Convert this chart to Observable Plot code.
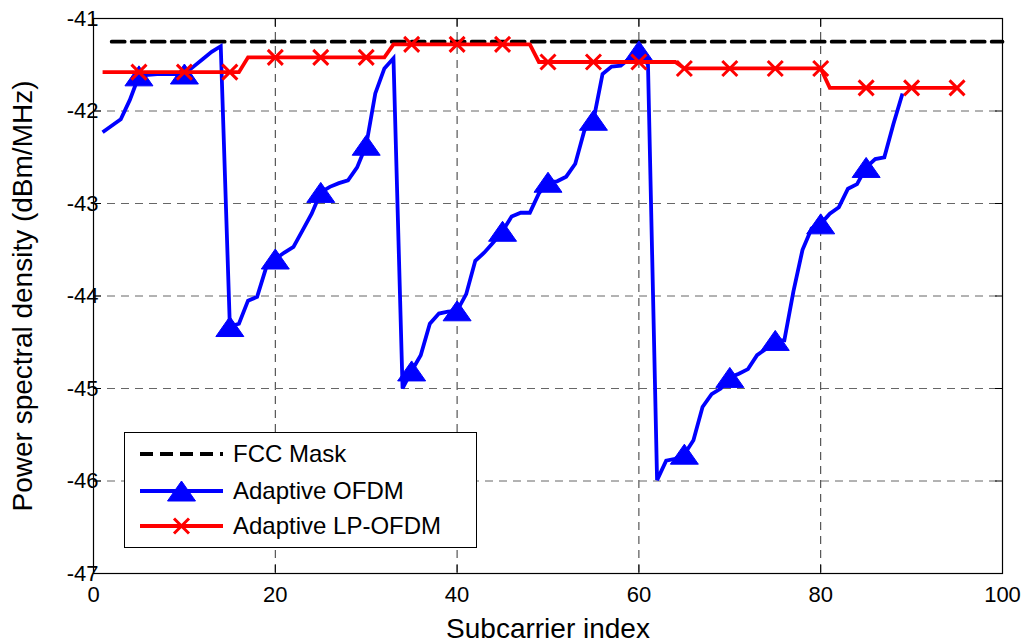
<!DOCTYPE html>
<html><head><meta charset="utf-8">
<script src="https://cdn.jsdelivr.net/npm/d3@7"></script>
<script src="https://cdn.jsdelivr.net/npm/@observablehq/plot@0.6"></script>
<style>
html,body{margin:0;padding:0;background:#fff;}
#wrap{position:relative;width:1029px;height:642px;font-family:"Liberation Sans",Arial,Helvetica,sans-serif;}
#legend{position:absolute;left:124px;top:432px;width:351px;height:114px;border:1px solid #000;background:#fff;}
#legend svg{position:absolute;left:0;top:0;}
g[aria-label="x-axis label"] text, g[aria-label="y-axis label"] text{font-size:28px;}
</style></head>
<body><div id="wrap"></div>
<script>
// ---- data ----
const xTicks = [0, 20, 40, 60, 80, 100];
const yTicks = [-47, -46, -45, -44, -43, -42, -41];

const maskX = [2, 100];
const maskY = [-41.25, -41.25];

const ofdmX = [1,2,3,4,5,6,7,8,9,10,11,12,13,14,15,16,17,18,19,20,21,22,23,24,25,26,27,28,29,30,
  31,32,33,34,35,36,37,38,39,40,41,42,43,44,45,46,47,48,49,50,51,52,53,54,55,56,57,58,59,60,
  61,62,63,64,65,66,67,68,69,70,71,72,73,74,75,76,77,78,79,80,81,82,83,84,85,86,87,88,89];
const ofdmY = [-42.23,-42.16,-42.09,-41.88,-41.62,-41.61,-41.60,-41.60,-41.60,-41.60,
  -41.52,-41.44,-41.36,-41.30,-44.33,-44.30,-44.05,-44.01,-43.69,-43.60,
  -43.53,-43.47,-43.29,-43.11,-42.88,-42.82,-42.78,-42.75,-42.61,-42.37,
  -41.81,-41.54,-41.43,-45.00,-44.81,-44.64,-44.30,-44.19,-44.17,-44.16,
  -43.98,-43.62,-43.53,-43.42,-43.30,-43.14,-43.10,-43.10,-42.89,-42.77,
  -42.76,-42.71,-42.57,-42.21,-42.10,-41.60,-41.52,-41.51,-41.43,-41.35,
  -41.50,-45.99,-45.78,-45.76,-45.71,-45.56,-45.20,-45.06,-45.00,-44.88,
  -44.84,-44.79,-44.64,-44.57,-44.48,-44.48,-43.95,-43.50,-43.27,-43.22,
  -43.11,-43.04,-42.84,-42.79,-42.61,-42.52,-42.50,-42.14,-41.81];

const lpX = [1,2,3,4,5,6,7,8,9,10,11,12,13,14,15,16,17,18,19,20,21,22,23,24,25,26,27,28,29,30,
  31,32,33,34,35,36,37,38,39,40,41,42,43,44,45,46,47,48,49,50,51,52,53,54,55,56,57,58,59,60,
  61,62,63,64,65,66,67,68,69,70,71,72,73,74,75,76,77,78,79,80,81,82,83,84,85,86,87,88,89,90,
  91,92,93,94,95];
const lpY = [
  -41.58,-41.58,-41.58,-41.58,-41.58,-41.58,-41.58,-41.58,-41.58,-41.58,-41.58,-41.58,-41.58,-41.58,-41.58,-41.58,
  -41.42,-41.42,-41.42,-41.42,-41.42,-41.42,-41.42,-41.42,-41.42,-41.42,-41.42,-41.42,-41.42,-41.42,-41.42,-41.42,
  -41.28,-41.28,-41.28,-41.28,-41.28,-41.28,-41.28,-41.28,-41.28,-41.28,-41.28,-41.28,-41.28,-41.28,-41.28,-41.28,
  -41.47,-41.47,-41.47,-41.47,-41.47,-41.47,-41.47,-41.47,-41.47,-41.47,-41.47,-41.47,-41.47,-41.47,-41.47,-41.47,
  -41.54,-41.54,-41.54,-41.54,-41.54,-41.54,-41.54,-41.54,-41.54,-41.54,-41.54,-41.54,-41.54,-41.54,-41.54,-41.54,
  -41.75,-41.75,-41.75,-41.75,-41.75,-41.75,-41.75,-41.75,-41.75,-41.75,-41.75,-41.75,-41.75,-41.75,-41.75];

const seriesNames = ["FCC Mask", "Adaptive OFDM", "Adaptive LP-OFDM"];
const seriesColors = ["#000000", "#0000ff", "#ff0000"];

// ---- tables ----
const mask = maskX.map((x, i) => ({x, y: maskY[i]}));
const ofdm = ofdmX.map((x, i) => ({x, y: ofdmY[i]}));
const lp = lpX.map((x, i) => ({x, y: lpY[i]}));
const ofdmMarks = ofdm.filter(d => d.x % 5 === 0);
const lpMarks = lp.filter(d => d.x % 5 === 0);

const triangleSym = {draw(ctx) { ctx.moveTo(0, -10); ctx.lineTo(14, 10); ctx.lineTo(-14, 10); ctx.closePath(); }};
const crossSym = {draw(ctx) { const s = 7.5; ctx.moveTo(-s, -s); ctx.lineTo(s, s); ctx.moveTo(s, -s); ctx.lineTo(-s, s); }};

const lineStyle = {strokeWidth: 3.8, strokeLinejoin: "miter", strokeLinecap: "butt", strokeMiterlimit: 4};

const chart = Plot.plot({
  width: 1029, height: 642,
  marginLeft: 93, marginRight: 27, marginTop: 18, marginBottom: 69,
  x: {domain: [0, 100]},
  y: {domain: [-47, -41]},
  style: {fontFamily: '"Liberation Sans", Arial, Helvetica, sans-serif', fontSize: "22px", background: "#fff", color: "#000", overflow: "visible"},
  marks: [
    Plot.gridX(xTicks, {stroke: "#333", strokeOpacity: 1, strokeDasharray: "8,6"}),
    Plot.gridY(yTicks, {stroke: "#666", strokeOpacity: 1, strokeDasharray: "8,6"}),
    Plot.line(mask, {x: "x", y: "y", stroke: seriesColors[0], strokeWidth: 3.8, strokeDasharray: "13,7"}),
    Plot.line(ofdm, {x: "x", y: "y", stroke: seriesColors[1], ...lineStyle}),
    Plot.dot(ofdmMarks, {x: "x", y: "y", r: 1, symbol: triangleSym, fill: seriesColors[1], stroke: seriesColors[1], strokeWidth: 1}),
    Plot.line(lp, {x: "x", y: "y", stroke: seriesColors[2], ...lineStyle}),
    Plot.dot(lpMarks, {x: "x", y: "y", r: 1, symbol: crossSym, fill: "none", stroke: seriesColors[2], strokeWidth: 3}),
    Plot.frame({stroke: "#000", strokeWidth: 1.2}),
    Plot.axisX(xTicks, {anchor: "bottom", tickSize: -8, tickPadding: 21, label: "Subcarrier index", labelAnchor: "center", labelOffset: 64, labelArrow: "none"}),
    Plot.axisX(xTicks, {anchor: "top", tickSize: -8, tickFormat: () => "", label: null}),
    Plot.axisY(yTicks, {anchor: "left", tickSize: -8, tickPadding: 3, tickFormat: d => String(d).replace("\u2212", "-"), label: "Power spectral density (dBm/MHz)", labelAnchor: "center", labelOffset: 81, labelArrow: "none"}),
    Plot.axisY(yTicks, {anchor: "right", tickSize: -8, tickFormat: () => "", label: null})
  ]
});

const wrap = document.getElementById("wrap");
wrap.appendChild(chart);

// ---- legend (overlay) ----
const legend = document.createElement("div");
legend.id = "legend";
const rowsY = [21, 58, 93];
let svg = `<svg width="351" height="114" xmlns="http://www.w3.org/2000/svg" font-family='"Liberation Sans", Arial, sans-serif' font-size="24">`;
seriesNames.forEach((name, i) => {
  const y = rowsY[i];
  const dash = i === 0 ? ' stroke-dasharray="13,7"' : '';
  svg += `<line x1="15" x2="98" y1="${y}" y2="${y}" stroke="${seriesColors[i]}" stroke-width="3.8"${dash}/>`;
  if (i === 1) svg += `<path d="M56.5,${y-10}L70.5,${y+10}L42.5,${y+10}Z" fill="${seriesColors[i]}" stroke="${seriesColors[i]}"/>`;
  if (i === 2) svg += `<path d="M49,${y-7.5}L64,${y+7.5}M64,${y-7.5}L49,${y+7.5}" stroke="${seriesColors[i]}" stroke-width="3" fill="none"/>`;
  svg += `<text x="108" y="${y}" dy="0.35em" fill="#000">${name}</text>`;
});
svg += `</svg>`;
legend.innerHTML = svg;
wrap.appendChild(legend);
</script>
</body></html>
